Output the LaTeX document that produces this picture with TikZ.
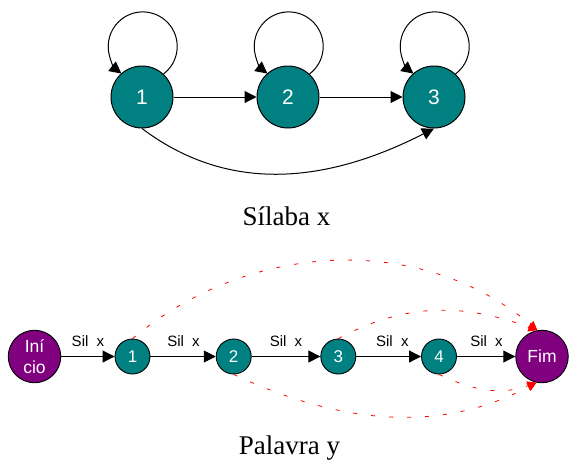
\documentclass[tikz,border=0pt]{standalone}
\usepackage{fontspec}
\setmainfont{Liberation Serif}
\setsansfont{Liberation Sans}
\usetikzlibrary{arrows.meta}
\definecolor{tealfill}{HTML}{008080}
\definecolor{purp}{HTML}{800080}
\begin{document}
\begin{tikzpicture}[x=1pt,y=1pt,
  bigstate/.style={circle,draw=black,line width=1pt,fill=tealfill,minimum size=62pt,inner sep=0pt,text=white,font=\sffamily\fontsize{21}{24}\selectfont},
  smallstate/.style={circle,draw=black,line width=0.9pt,fill=tealfill,minimum size=35pt,inner sep=0pt,text=white,font=\sffamily\fontsize{17}{20}\selectfont},
  endstate/.style={circle,draw=black,line width=0.9pt,fill=purp,minimum size=52.5pt,inner sep=0pt,text=white,align=center,font=\sffamily\fontsize{17.5}{21.5}\selectfont},
  arr/.style={-{Triangle[length=12pt,width=12pt]},line width=1pt,black},
  redarr/.style={-{Triangle[length=9pt,width=9pt]},red,line width=0.8pt,dash pattern=on 4pt off 14pt},
  lbl/.style={font=\sffamily\fontsize{15}{18}\selectfont,text=black,inner sep=0pt,anchor=base},
  captiontext/.style={font=\fontsize{27}{30}\selectfont,inner sep=0pt,anchor=base}]
\useasboundingbox (0,0) rectangle (569,-461);

% top diagram
\node[bigstate] (a1) at (142,-97) {1};
\node[bigstate] (a2) at (288,-97) {2};
\node[bigstate] (a3) at (434,-97) {3};

\draw[arr] (a1.47) arc[start angle=-53,end angle=232,radius=34.5];
\draw[arr] (a2.47) arc[start angle=-53,end angle=232,radius=34.5];
\draw[arr] (a3.47) arc[start angle=-53,end angle=232,radius=34.5];
\draw[arr] (a1) -- (a2);
\draw[arr] (a2) -- (a3);
\draw[arr] (a1.south) .. controls +(-37:104) and +(207:127) .. (a3.south);

\node[captiontext] (cap1) at (286.5,-225) {Sílaba x};

% bottom diagram
\node[endstate] (ini) at (34.5,-356.5) {Iní\\cio};
\node[smallstate] (b1) at (132.5,-356.5) {1};
\node[smallstate] (b2) at (233.7,-356.5) {2};
\node[smallstate] (b3) at (338.3,-356.5) {3};
\node[smallstate] (b4) at (439,-356.5) {4};
\node[endstate] (fim) at (542,-356.5) {Fim};

\draw[arr] (ini) -- (b1);
\draw[arr] (b1) -- (b2);
\draw[arr] (b2) -- (b3);
\draw[arr] (b3) -- (b4);
\draw[arr] (b4) -- (fim);

\node[lbl] (l1) at (88,-346.5) {Sil\ \ x};
\node[lbl] (l2) at (183.5,-346.5) {Sil\ \ x};
\node[lbl] (l3) at (286,-346.5) {Sil\ \ x};
\node[lbl] (l4) at (392.3,-346.5) {Sil\ \ x};
\node[lbl] (l5) at (486.5,-346.5) {Sil\ \ x};

\draw[redarr] (b1.north) to[out=40,in=140,looseness=0.96] (fim.100);
\draw[redarr] (b3.north) to[out=28,in=160] (fim.100);
\draw[redarr] (b2.south) to[out=-25,in=208,looseness=0.95] (fim.258);
\draw[redarr] (b4.south) to[out=-25,in=200] (fim.258);

\node[captiontext] (cap2) at (289.5,-454.5) {Palavra y};
\end{tikzpicture}
\end{document}
